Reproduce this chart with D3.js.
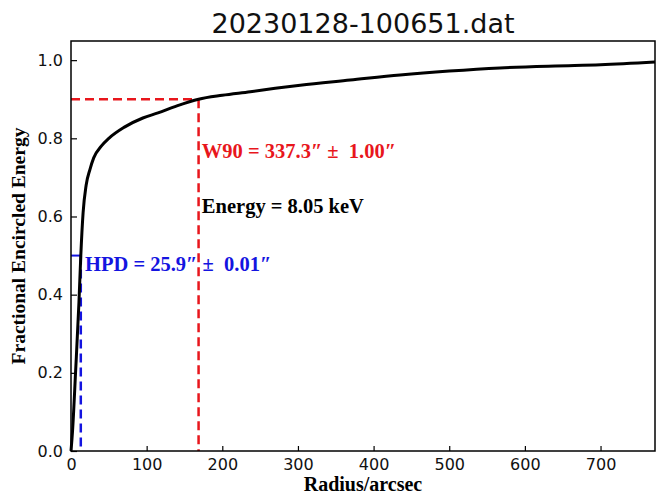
<!DOCTYPE html>
<html><head><meta charset="utf-8">
<script src="https://cdn.jsdelivr.net/npm/d3@7"></script>
<style>html,body{margin:0;padding:0;background:#fff;} text{white-space:pre;}</style>
</head><body>
<svg id="chart" width="656" height="495"></svg>
<script>
const radius = [0, 2, 6, 10.5, 12.95, 16, 20, 25, 30, 40, 50, 70, 95, 115, 140, 168.65, 200, 237, 270, 303, 369, 435, 500, 567, 640, 700, 772];
const energy = [0, 0.05, 0.2, 0.38, 0.5, 0.61, 0.68, 0.72, 0.75, 0.78, 0.80, 0.828, 0.852, 0.865, 0.883, 0.9, 0.91, 0.919, 0.928, 0.936, 0.949, 0.962, 0.972, 0.98, 0.985, 0.988, 0.995];
const xTicks = [0, 100, 200, 300, 400, 500, 600, 700];
const yTicks = [0.0, 0.2, 0.4, 0.6, 0.8, 1.0];
const hpdRadius = 12.95, hpdLevel = 0.5;
const w90Radius = 168.65, w90Level = 0.9;
const title = "20230128-100651.dat";
const xLabel = "Radius/arcsec", yLabel = "Fractional Encircled Energy";
const annW90 = {x: 173, y: 0.75, text: "W90 = 337.3\u2033 \u00b1  1.00\u2033"};
const annEnergy = {x: 173, y: 0.608, text: "Energy = 8.05 keV"};
const annHPD = {x: 18.5, y: 0.46, text: "HPD = 25.9\u2033 \u00b1  0.01\u2033"};

const svg = d3.select("#chart");
const m = {l: 71, r: 1, t: 41, b: 44};
const W = 656, H = 495;
const x = d3.scaleLinear().domain([0, 772]).range([m.l, W - m.r]);
const y = d3.scaleLinear().domain([0, 1.049]).range([H - m.b, m.t]);
const RED = "#e8161c", BLUE = "#1414e0";

// axes
const tickFont = "DejaVu Sans, sans-serif";
const xa = svg.append("g").attr("transform", `translate(0,${y(0)})`)
  .call(d3.axisBottom(x).tickValues(xTicks).tickFormat(d3.format("d")).tickSizeInner(-5).tickSizeOuter(0).tickPadding(8));
const ya = svg.append("g").attr("transform", `translate(${m.l},0)`)
  .call(d3.axisLeft(y).tickValues(yTicks).tickFormat(d3.format(".1f")).tickSizeInner(-6).tickSizeOuter(0).tickPadding(8));
[xa, ya].forEach(g => {
  g.select(".domain").remove();
  g.selectAll("line").attr("stroke", "#000").attr("stroke-width", 1.2);
  g.selectAll("text").attr("font-family", tickFont).attr("font-size", 16).attr("fill", "#111");
});

// curve
const pts = radius.map((r, i) => [r, energy[i]]);
const line = d3.line().x(d => x(d[0])).y(d => y(d[1])).curve(d3.curveMonotoneX);

// W90 lines
svg.append("line").attr("x1", x(0)).attr("x2", x(w90Radius)).attr("y1", y(w90Level)).attr("y2", y(w90Level))
  .attr("stroke", RED).attr("stroke-width", 2.5).attr("stroke-dasharray", "9,5");
svg.append("line").attr("x1", x(w90Radius)).attr("x2", x(w90Radius)).attr("y1", y(w90Level)).attr("y2", y(0))
  .attr("stroke", RED).attr("stroke-width", 2.5).attr("stroke-dasharray", "9,5");
// HPD lines
svg.append("line").attr("x1", x(0)).attr("x2", x(hpdRadius)).attr("y1", y(hpdLevel)).attr("y2", y(hpdLevel))
  .attr("stroke", BLUE).attr("stroke-width", 2);
svg.append("line").attr("x1", x(hpdRadius)).attr("x2", x(hpdRadius)).attr("y1", y(hpdLevel)).attr("y2", y(0))
  .attr("stroke", BLUE).attr("stroke-width", 2.5).attr("stroke-dasharray", "9,5");

svg.append("path").datum(pts).attr("d", line).attr("fill", "none").attr("stroke", "#000").attr("stroke-width", 3)
  .attr("stroke-linejoin", "round");

// frame
svg.append("rect").attr("x", x(0)).attr("y", m.t).attr("width", x(772) - x(0)).attr("height", y(0) - m.t)
  .attr("fill", "none").attr("stroke", "#000").attr("stroke-width", 1.5);

// annotations
const serif = "Liberation Serif, Times New Roman, serif";
[[annW90, RED], [annEnergy, "#000"], [annHPD, BLUE]].forEach(([a, c]) => {
  svg.append("text").attr("x", x(a.x)).attr("y", y(a.y)).text(a.text)
    .attr("font-family", serif).attr("font-weight", "bold").attr("font-size", 20.5).attr("fill", c);
});

// title and labels
svg.append("text").attr("x", (x(0) + x(772)) / 2).attr("y", 33).attr("text-anchor", "middle")
  .attr("font-family", tickFont).attr("font-size", 27).attr("fill", "#111").text(title);
svg.append("text").attr("x", (x(0) + x(772)) / 2).attr("y", 491).attr("text-anchor", "middle")
  .attr("font-family", serif).attr("font-weight", "bold").attr("font-size", 20).text(xLabel);
svg.append("text").attr("transform", `translate(25,${(y(0) + m.t) / 2}) rotate(-90)`).attr("text-anchor", "middle")
  .attr("font-family", serif).attr("font-weight", "bold").attr("font-size", 19.5).text(yLabel);
</script>
</body></html>
